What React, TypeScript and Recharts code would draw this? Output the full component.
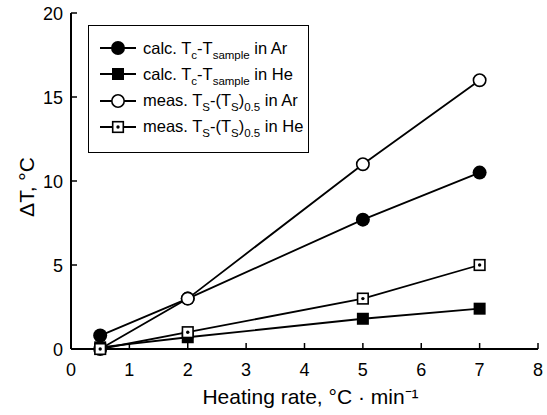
import React from "react";
import { LineChart, Line, XAxis, YAxis } from "recharts";

// values
const rates = [0.5, 2, 5, 7];
const calcAr = [0.8, 3.0, 7.7, 10.5];
const calcHe = [0.1, 0.7, 1.8, 2.4];
const measAr = [0, 3.0, 11, 16];
const measHe = [0, 1.0, 3.0, 5.0];
const xTicks = [0, 1, 2, 3, 4, 5, 6, 7, 8];
const yTicks = [0, 5, 10, 15, 20];

const data = rates.map((r, i) => ({
  rate: r,
  calcAr: calcAr[i],
  calcHe: calcHe[i],
  measAr: measAr[i],
  measHe: measHe[i],
}));

const FONT = "Arial, 'Liberation Sans', Helvetica, sans-serif";

const FilledCircle = (p: any) => <circle cx={p.cx} cy={p.cy} r={7} fill="#000" />;
const FilledSquare = (p: any) => (
  <rect x={p.cx - 6} y={p.cy - 6} width={12} height={12} fill="#000" />
);
const OpenCircle = (p: any) => (
  <circle cx={p.cx} cy={p.cy} r={6.2} fill="#fff" stroke="#000" strokeWidth={1.6} />
);
const DotSquare = (p: any) => (
  <g>
    <rect x={p.cx - 5.3} y={p.cy - 5.3} width={10.6} height={10.6} fill="#fff" stroke="#000" strokeWidth={1.6} />
    <circle cx={p.cx} cy={p.cy} r={1.7} fill="#000" />
  </g>
);

const XTick = ({ x, y, payload }: any) => (
  <g>
    <line x1={x} y1={y} x2={x} y2={y - 6} stroke="#000" strokeWidth={1.5} />
    <text x={x} y={y + 27} textAnchor="middle" fontSize={18} fontFamily={FONT} fill="#000">
      {payload.value}
    </text>
  </g>
);

const YTick = ({ x, y, payload }: any) => (
  <g>
    <line x1={x} y1={y} x2={x + 6} y2={y} stroke="#000" strokeWidth={1.5} />
    <text x={x - 8} y={y + 6.5} textAnchor="end" fontSize={18} fontFamily={FONT} fill="#000">
      {payload.value}
    </text>
  </g>
);

// axis titles drawn from the axis viewBox
const XTitle = ({ viewBox }: any) => (
  <text
    x={viewBox.x + viewBox.width / 2 + 6}
    y={viewBox.y + 55}
    textAnchor="middle"
    fontSize={21}
    fontFamily={FONT}
    fill="#000"
  >
    Heating rate, °C · min⁻¹
  </text>
);

const YTitle = ({ viewBox }: any) => {
  const cx = viewBox.x + 34;
  const cy = viewBox.y + viewBox.height / 2 + 6;
  return (
    <text
      x={cx}
      y={cy}
      transform={`rotate(-90 ${cx} ${cy})`}
      textAnchor="middle"
      fontSize={21}
      fontFamily={FONT}
      fill="#000"
    >
      ΔT, °C
    </text>
  );
};

const legendRows = [
  { marker: "fc", main: "calc. T", s1: "c", mid: "-T", s2: "sample", tail: " in Ar" },
  { marker: "fs", main: "calc. T", s1: "c", mid: "-T", s2: "sample", tail: " in He" },
  { marker: "oc", main: "meas. T", s1: "S", mid: "-(T", s1b: "S", s2: "0.5", tail: " in Ar" },
  { marker: "ds", main: "meas. T", s1: "S", mid: "-(T", s1b: "S", s2: "0.5", tail: " in He" },
];

const LegendMarker = ({ kind }: { kind: string }) => (
  <svg width={38} height={18} style={{ display: "block" }}>
    <line x1={1} y1={9} x2={37} y2={9} stroke="#000" strokeWidth={1.8} />
    {kind === "fc" && <FilledCircle cx={19} cy={9} />}
    {kind === "fs" && <FilledSquare cx={19} cy={9} />}
    {kind === "oc" && <OpenCircle cx={19} cy={9} />}
    {kind === "ds" && <DotSquare cx={19} cy={9} />}
  </svg>
);

const sub: React.CSSProperties = { fontSize: 11.5, verticalAlign: -5, lineHeight: 0 };

export default function App() {
  return (
    <div style={{ position: "relative", width: 547, height: 415, background: "#fff", fontFamily: FONT }}>
      <style>{"body{margin:0}"}</style>
      <LineChart
        width={547}
        height={415}
        data={data}
        margin={{ top: 13, right: 9, left: 0, bottom: 0 }}
      >
        <XAxis
          dataKey="rate"
          type="number"
          domain={[0, 8]}
          ticks={xTicks}
          height={66}
          axisLine={{ stroke: "#000", strokeWidth: 2 }}
          tickLine={false}
          tickSize={0}
          tickMargin={0}
          tick={<XTick />}
          interval={0}
          label={<XTitle />}
        />
        <XAxis
          xAxisId="top"
          orientation="top"
          dataKey="rate"
          type="number"
          domain={[0, 8]}
          height={0}
          tick={false}
          tickLine={false}
          axisLine={{ stroke: "#000", strokeWidth: 1.5 }}
        />
        <YAxis
          type="number"
          domain={[0, 20]}
          ticks={yTicks}
          width={71}
          axisLine={{ stroke: "#000", strokeWidth: 2 }}
          tickLine={false}
          tickSize={0}
          tickMargin={0}
          tick={<YTick />}
          interval={0}
          label={<YTitle />}
        />
        <YAxis
          yAxisId="right"
          orientation="right"
          type="number"
          domain={[0, 20]}
          width={0}
          tick={false}
          tickLine={false}
          axisLine={{ stroke: "#000", strokeWidth: 1.5 }}
        />
        <Line dataKey="calcAr" stroke="#000" strokeWidth={1.8} dot={<FilledCircle />} isAnimationActive={false} />
        <Line dataKey="calcHe" stroke="#000" strokeWidth={1.8} dot={<FilledSquare />} isAnimationActive={false} />
        <Line dataKey="measAr" stroke="#000" strokeWidth={1.8} dot={<OpenCircle />} isAnimationActive={false} />
        <Line dataKey="measHe" stroke="#000" strokeWidth={1.8} dot={<DotSquare />} isAnimationActive={false} />
      </LineChart>
      <div
        style={{
          position: "absolute",
          left: 88,
          top: 25,
          width: 221,
          height: 128,
          border: "1.5px solid #000",
          background: "#fff",
          boxSizing: "border-box",
        }}
      >
        {legendRows.map((r, i) => (
          <div
            key={i}
            style={{
              position: "absolute",
              left: 10,
              top: 13 + i * 26.3,
              display: "flex",
              alignItems: "center",
              fontSize: 16.5,
              whiteSpace: "nowrap",
              height: 18,
            }}
          >
            <LegendMarker kind={r.marker} />
            <span style={{ marginLeft: 6 }}>
              {r.main}
              <span style={sub}>{r.s1}</span>
              {r.mid}
              {r.s1b && <span style={sub}>{r.s1b}</span>}
              {r.s1b && ")"}
              <span style={sub}>{r.s2}</span>
              {r.tail}
            </span>
          </div>
        ))}
      </div>
    </div>
  );
}
